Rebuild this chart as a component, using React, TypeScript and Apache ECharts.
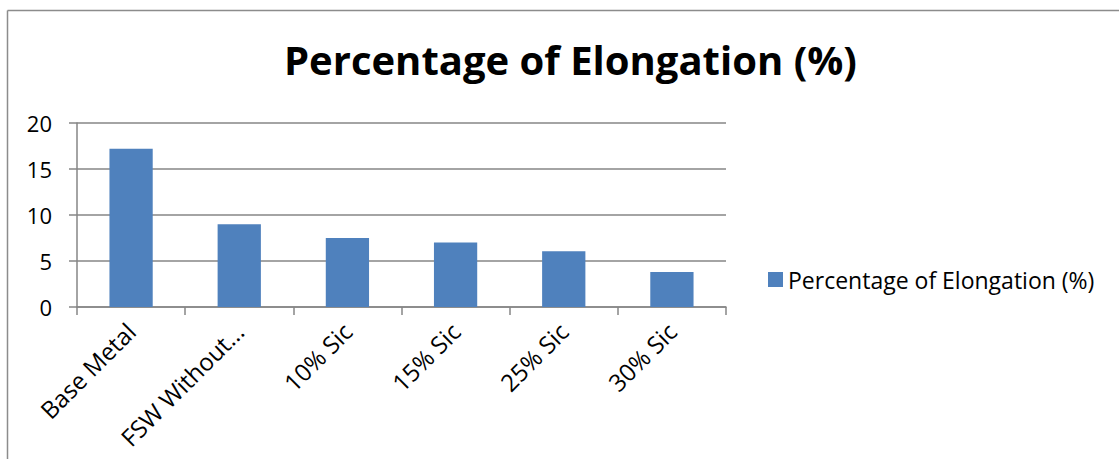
import React, { useEffect, useRef } from "react";
import * as echarts from "echarts";

const categories = ["Base Metal", "FSW Without...", "10% Sic", "15% Sic", "25% Sic", "30% Sic"];
const elongation = [17.2, 9, 7.5, 7, 6.05, 3.8];
const seriesName = "Percentage of Elongation (%)";
const titleText = "Percentage of Elongation (%)";

const FONT = "'Open Sans', 'Noto Sans', sans-serif";
const GRID_COLOR = "#868686";
const BAR_COLOR = "#4F81BD";

export default function App() {
  const ref = useRef<HTMLDivElement>(null);

  useEffect(() => {
    if (!ref.current) return;
    const chart = echarts.init(ref.current, undefined, { renderer: "svg" });
    chart.setOption({
      animation: false,
      backgroundColor: "#ffffff",
      title: {
        text: titleText,
        left: 279,
        top: 34,
        textStyle: { fontFamily: FONT, fontWeight: "bold", fontSize: 40, color: "#000" },
      },
      legend: {
        data: [seriesName],
        left: 763,
        top: 263,
        icon: "rect",
        itemWidth: 15,
        itemHeight: 15,
        itemGap: 7,
        textStyle: { fontFamily: FONT, fontSize: 23, color: "#000" },
      },
      grid: { left: 77, right: 393, top: 123, bottom: 152, containLabel: false },
      xAxis: {
        type: "category",
        data: categories,
        boundaryGap: true,
        axisLine: { show: true, lineStyle: { color: GRID_COLOR, width: 1.5 } },
        axisTick: { show: true, length: 8, alignWithLabel: false, lineStyle: { color: GRID_COLOR, width: 1.5 } },
        axisLabel: {
          rotate: 45,
          interval: 0,
          margin: 20,
          fontFamily: FONT,
          fontSize: 24,
          color: "#000",
        },
      },
      yAxis: {
        type: "value",
        min: 0,
        max: 20,
        interval: 5,
        axisLine: { show: true, lineStyle: { color: GRID_COLOR, width: 1.5 } },
        axisTick: { show: true, length: 8, lineStyle: { color: GRID_COLOR, width: 1.5 } },
        splitLine: { show: true, lineStyle: { color: GRID_COLOR, width: 1.5 } },
        axisLabel: { margin: 25, fontFamily: FONT, fontSize: 22, color: "#000" },
      },
      series: [
        {
          name: seriesName,
          type: "bar",
          data: elongation,
          barWidth: "40%",
          itemStyle: { color: BAR_COLOR },
        },
      ],
      graphic: [
        { type: "line", shape: { x1: 7.5, y1: 10.5, x2: 1119, y2: 10.5 }, style: { stroke: "#8c8c8c", lineWidth: 1.5 } },
        { type: "line", shape: { x1: 7.5, y1: 10.5, x2: 7.5, y2: 459 }, style: { stroke: "#8c8c8c", lineWidth: 1.5 } },
      ],
    });
    return () => chart.dispose();
  }, []);

  return (
    <div
      ref={ref}
      style={{ position: "absolute", left: 0, top: 0, width: 1119, height: 459 }}
    />
  );
}
